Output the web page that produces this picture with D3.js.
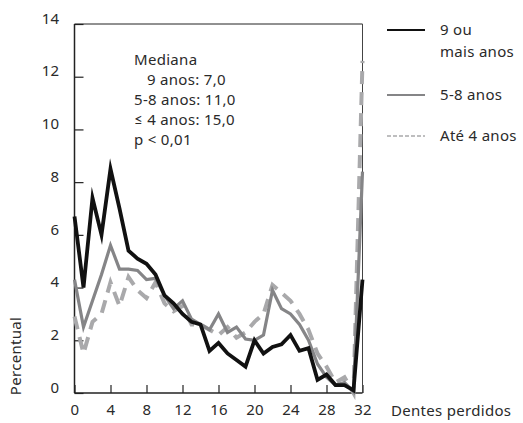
<!DOCTYPE html>
<html>
<head>
<meta charset="utf-8">
<script src="https://cdn.jsdelivr.net/npm/d3@7"></script>
<style>
  body { margin: 0; background: #fff; }
  svg text { font-family: "Noto Sans", Lato, sans-serif; fill: #2a2a2a; letter-spacing: 0.3px; }
</style>
</head>
<body>
<svg id="chart" width="523" height="423"></svg>
<script>
// dentes perdidos 0..32
const dentes = d3.range(0, 33);

// 9 ou mais anos
const serie9 = [6.7, 4.0, 7.4, 6.0, 8.5, 7.0, 5.4, 5.1, 4.9, 4.5, 3.7, 3.4, 3.0, 2.7, 2.6, 1.6,
  1.9, 1.5, 1.25, 1.0, 2.0, 1.5, 1.75, 1.85, 2.2, 1.6, 1.7, 0.5, 0.7, 0.3, 0.3, 0.1, 4.3];
// 5-8 anos
const serie58 = [4.3, 2.5, 3.5, 4.5, 5.6, 4.7, 4.7, 4.65, 4.3, 4.35, 3.7, 3.2, 3.5, 2.8, 2.6, 2.4,
  3.0, 2.3, 2.5, 2.05, 2.0, 2.2, 3.9, 3.2, 3.0, 2.6, 2.0, 1.1, 0.6, 0.3, 0.4, 0.05, 8.4];
// Até 4 anos
const serie4 = [2.9, 1.5, 2.7, 3.0, 4.2, 3.3, 4.4, 3.9, 3.6, 4.2, 3.4, 3.1, 3.3, 2.6, 2.6, 2.4,
  2.2, 2.5, 2.1, 2.3, 2.7, 3.0, 4.1, 3.8, 3.5, 3.0, 2.4, 1.5, 1.0, 0.4, 0.6, 0.0, 12.6];

const yTicks = [0, 2, 4, 6, 8, 10, 12, 14];
const xTicks = [0, 4, 8, 12, 16, 20, 24, 28, 32];

const legendItens = ['9 ou|mais anos', '5-8 anos', 'Até 4 anos'];
const notas = ['Mediana', '9 anos: 7,0', '5-8 anos: 11,0', '≤ 4 anos: 15,0', 'p < 0,01'];

const svg = d3.select('#chart');
const fonte = 15;

const x = d3.scaleLinear().domain([0, 32]).range([74.5, 362.5]);
const y = d3.scaleLinear().domain([0, 14]).range([393, 24]);

// eixos com ticks para dentro
const gy = svg.append('g')
  .attr('transform', `translate(${x(0)},0)`)
  .call(d3.axisLeft(y).tickValues(yTicks).tickSize(-9).tickPadding(15));
gy.select('.domain').remove();
gy.selectAll('line').attr('stroke', '#222').attr('stroke-width', 1.2);
gy.selectAll('text').attr('dy', '-0.05em').attr('font-size', fonte);

const gx = svg.append('g')
  .attr('transform', `translate(0,${y(0)})`)
  .call(d3.axisBottom(x).tickValues(xTicks).tickSize(-8));
gx.select('.domain').remove();
gx.selectAll('line').attr('stroke', '#222').attr('stroke-width', 1.2);
gx.selectAll('text').attr('y', 11).attr('font-size', fonte);

// moldura
svg.append('line').attr('x1', x(0)).attr('x2', x(32)).attr('y1', y(14)).attr('y2', y(14))
  .attr('stroke', '#222').attr('stroke-width', 1);
svg.append('line').attr('x1', x(32)).attr('x2', x(32)).attr('y1', y(14)).attr('y2', y(0))
  .attr('stroke', '#444').attr('stroke-width', 1);
svg.append('line').attr('x1', x(0)).attr('x2', x(0)).attr('y1', y(14)).attr('y2', y(0))
  .attr('stroke', '#222').attr('stroke-width', 1.5);
svg.append('line').attr('x1', x(0)).attr('x2', x(32)).attr('y1', y(0)).attr('y2', y(0))
  .attr('stroke', '#222').attr('stroke-width', 1.5);

const line = d3.line().x((d, i) => x(dentes[i])).y(d => y(d));

const series = [
  { values: serie4, color: '#a9a9ab', width: 4, dash: '13,8' },
  { values: serie58, color: '#858587', width: 3.2, dash: null },
  { values: serie9, color: '#111', width: 3.8, dash: null },
];

series.forEach(s => {
  svg.append('path')
    .datum(s.values)
    .attr('d', line)
    .attr('fill', 'none')
    .attr('stroke', s.color)
    .attr('stroke-width', s.width)
    .attr('stroke-linejoin', 'miter')
    .attr('stroke-miterlimit', 6)
    .attr('stroke-dasharray', s.dash);
});

// anotação das medianas
const nota = svg.append('g').attr('font-size', fonte);
notas.forEach((t, i) => {
  nota.append('text')
    .attr('x', i === 1 ? 147 : 134)
    .attr('y', 65 + i * 20)
    .text(t);
});

// legenda
const legY = [30, 95, 136];
const legStyle = [
  { color: '#111', width: 2, dash: null },
  { color: '#858587', width: 2, dash: null },
  { color: '#a9a9ab', width: 1.5, dash: '4,2' },
];
legendItens.forEach((t, i) => {
  svg.append('line')
    .attr('x1', 387).attr('x2', 425)
    .attr('y1', legY[i]).attr('y2', legY[i])
    .attr('stroke', legStyle[i].color)
    .attr('stroke-width', legStyle[i].width)
    .attr('stroke-dasharray', legStyle[i].dash);
  t.split('|').forEach((part, j) => {
    svg.append('text')
      .attr('x', 440)
      .attr('y', legY[i] + 5 + j * 22)
      .attr('font-size', fonte)
      .text(part);
  });
});

// títulos dos eixos
svg.append('text')
  .attr('transform', 'translate(21,356) rotate(-90)')
  .attr('text-anchor', 'middle')
  .attr('font-size', fonte)
  .text('Percentual');

svg.append('text')
  .attr('x', 391)
  .attr('y', 416)
  .attr('font-size', fonte)
  .text('Dentes perdidos');
</script>
</body>
</html>
